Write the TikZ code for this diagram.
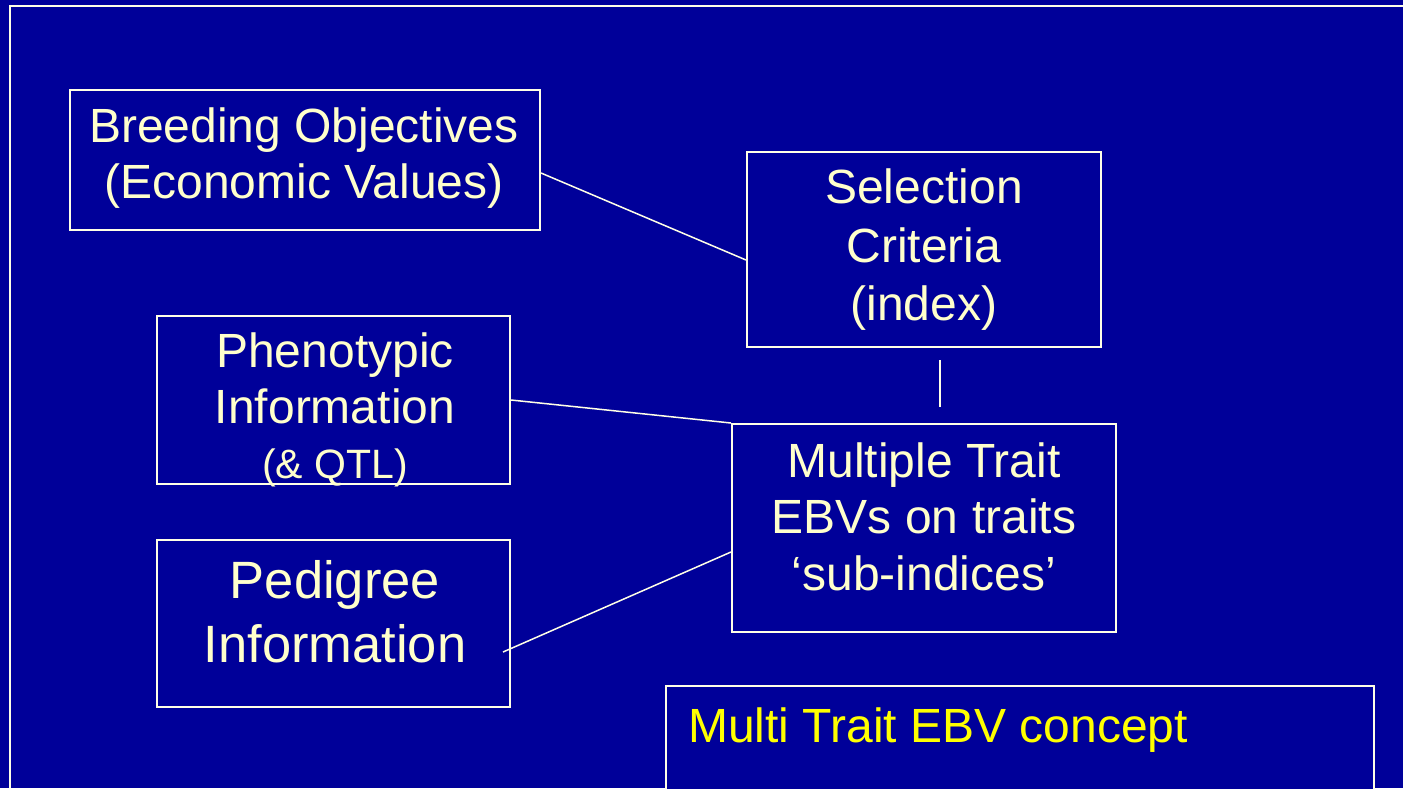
\documentclass[tikz,border=0pt]{standalone}
\usepackage{fontspec}
\setmainfont{Liberation Sans}
\usetikzlibrary{calc}
\definecolor{bgblue}{HTML}{000099}
\definecolor{cream}{HTML}{FFFFCC}
\definecolor{framecol}{HTML}{FFFFE6}
\definecolor{titleyellow}{HTML}{FFFF00}
\tikzset{
  boxnode/.style={draw=framecol, line width=2pt, inner sep=0pt, fill=bgblue},
  conn/.style={draw=framecol, line width=1.5pt},
  txt/.style={text=cream, anchor=base, inner sep=0pt, font=\fontsize{48}{57}\selectfont},
  smalltxt/.style={text=cream, anchor=base, inner sep=0pt, font=\fontsize{41}{49}\selectfont},
  bigtxt/.style={text=cream, anchor=base, inner sep=0pt, font=\fontsize{52.5}{62}\selectfont},
  titletxt/.style={text=titleyellow, anchor=base west, inner sep=0pt, font=\fontsize{48}{57}\selectfont}
}
\begin{document}
\begin{tikzpicture}[x=1pt,y=-1pt]
\useasboundingbox (0,0) rectangle (1403,788);
\fill[bgblue] (0,0) rectangle (1403,788);
% outer frame
\draw[draw=framecol, line width=2pt] (1403,6) -- (10,6) -- (10,788);

% boxes
\node[boxnode, minimum width=470pt, minimum height=140pt] (bo) at (305,160) {};
\node[boxnode, minimum width=354pt, minimum height=195pt] (sc) at (924,249.5) {};
\node[boxnode, minimum width=353pt, minimum height=168pt] (ph) at (333.5,400) {};
\node[boxnode, minimum width=353pt, minimum height=167pt] (pd) at (333.5,623.5) {};
\node[boxnode, minimum width=384pt, minimum height=208pt] (mt) at (924,528) {};
\node[boxnode, minimum width=708pt, minimum height=140pt] (mc) at (1020,756) {};

% texts
\node[txt] (bo1) at (304,142) {Breeding Objectives};
\node[txt] (bo2) at (304,198) {(Economic Values)};

\node[txt] (sc1) at (924,203) {Selection};
\node[txt] (sc2) at (924,262) {Criteria};
\node[txt] (sc3) at (924,320) {(index)};

\node[txt] (ph1) at (335,367) {Phenotypic};
\node[txt] (ph2) at (335,423) {Information};
\node[smalltxt] (ph3) at (335,478) {(\& QTL)};

\node[bigtxt] (pd1) at (335,598) {Pedigree};
\node[bigtxt] (pd2) at (335,662) {Information};

\node[txt] (mt1) at (924,477) {Multiple Trait};
\node[txt] (mt2) at (924,533) {EBVs on traits};
\node[txt] (mt3) at (924,590) {‘sub-indices’};

\node[titletxt] (mc1) at (688,742) {Multi Trait EBV concept};

% connectors
\draw[conn] ($(bo.east)+(0,13)$) -- ($(sc.west)+(0,10.5)$);
\draw[conn] (ph.east) -- (mt.north west);
\draw[conn] ($(pd.east)+(-8,28.5)$) -- ($(mt.west)+(0,24)$);
\draw[conn] ($(sc.south)+(16,12)$) -- ($(mt.north)+(16,-16)$);
\end{tikzpicture}
\end{document}
